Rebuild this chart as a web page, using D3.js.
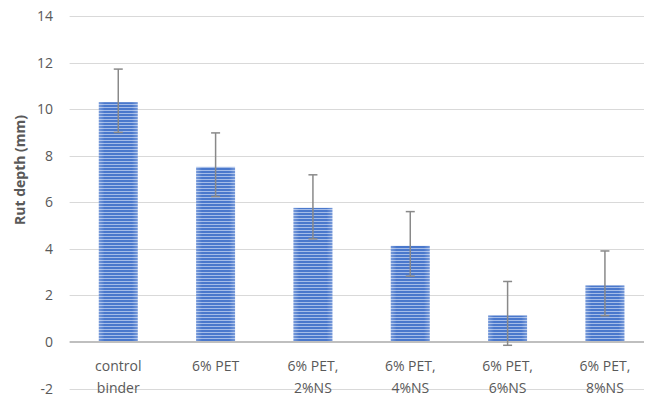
<!DOCTYPE html>
<html>
<head>
<meta charset="utf-8">
<script src="https://cdn.jsdelivr.net/npm/d3@7"></script>
<style>
  html, body { margin: 0; padding: 0; background: #fff; }
  svg { display: block; font-family: "Open Sans", "Liberation Sans", sans-serif; }
</style>
</head>
<body>
<svg id="chart" width="645" height="397"></svg>
<script>
const categories = [["control", "binder"], ["6% PET"], ["6% PET,", "2%NS"], ["6% PET,", "4%NS"], ["6% PET,", "6%NS"], ["6% PET,", "8%NS"]];
const values = [10.3, 7.52, 5.76, 4.13, 1.14, 2.43];
const errPlus = [1.42, 1.46, 1.42, 1.47, 1.46, 1.48];
const errMinus = [1.3, 1.27, 1.33, 1.3, 1.28, 1.3];
const yTicks = [-2, 0, 2, 4, 6, 8, 10, 12, 14];
const yTitle = "Rut depth (mm)";

const svg = d3.select("#chart");
const left = 69.6, right = 653.6, gridRight = 644;

const x = d3.scaleBand().domain(d3.range(categories.length)).range([left, right]).paddingInner(0.6).paddingOuter(0.3);
const y = d3.scaleLinear().domain([-2, 14]).range([388.6, 16]);

// pattern
const defs = svg.append("defs");
const pat = defs.append("pattern").attr("id", "stripes").attr("patternUnits", "userSpaceOnUse")
  .attr("width", 8).attr("height", 3);
pat.append("rect").attr("width", 8).attr("height", 3).attr("fill", "#4a78cc");
pat.append("rect").attr("y", 2).attr("width", 8).attr("height", 1).attr("fill", "#a4bce8");

const grad = defs.append("linearGradient").attr("id", "edge").attr("x1", 0).attr("x2", 1);
grad.append("stop").attr("offset", "0").attr("stop-color", "#ffffff").attr("stop-opacity", 0.25);
grad.append("stop").attr("offset", "0.15").attr("stop-color", "#ffffff").attr("stop-opacity", 0);
grad.append("stop").attr("offset", "0.85").attr("stop-color", "#ffffff").attr("stop-opacity", 0);
grad.append("stop").attr("offset", "1").attr("stop-color", "#ffffff").attr("stop-opacity", 0.25);

// grid
svg.append("g").selectAll("line").data(yTicks.filter(d => d !== 0)).join("line")
  .attr("x1", left).attr("x2", gridRight)
  .attr("y1", d => Math.round(y(d)) + 0.5).attr("y2", d => Math.round(y(d)) + 0.5)
  .attr("stroke", "#d9d9d9").attr("stroke-width", 1);

// y tick labels
svg.append("g").selectAll("text").data(yTicks).join("text")
  .attr("x", 53).attr("y", d => y(d)).attr("dy", "0.36em")
  .attr("text-anchor", "end").attr("font-size", 14).attr("fill", "#595959")
  .text(d => d);

// y title
svg.append("text")
  .attr("transform", `translate(25,${170}) rotate(-90)`)
  .attr("text-anchor", "middle").attr("font-size", 14).attr("font-weight", "bold").attr("fill", "#595959")
  .text(yTitle);

// bars
const bars = svg.append("g");
bars.selectAll("rect.b").data(values).join("rect").attr("class", "b")
  .attr("x", (d, i) => x(i)).attr("width", x.bandwidth())
  .attr("y", d => y(d)).attr("height", d => y(0) - y(d))
  .attr("fill", "url(#stripes)");
bars.selectAll("rect.e").data(values).join("rect").attr("class", "e")
  .attr("x", (d, i) => x(i)).attr("width", x.bandwidth())
  .attr("y", d => y(d)).attr("height", d => y(0) - y(d))
  .attr("fill", "url(#edge)");

// zero line
svg.append("line").attr("x1", left).attr("x2", gridRight)
  .attr("y1", y(0)).attr("y2", y(0)).attr("stroke", "#bfbfbf").attr("stroke-width", 2);

// error bars
const eg = svg.append("g").attr("stroke", "#898989").attr("stroke-width", 1.5);
values.forEach((v, i) => {
  const cx = x(i) + x.bandwidth() / 2;
  const top = y(v + errPlus[i]), bot = y(v - errMinus[i]);
  eg.append("line").attr("x1", cx).attr("x2", cx).attr("y1", top).attr("y2", bot);
  eg.append("line").attr("x1", cx - 4.5).attr("x2", cx + 4.5).attr("y1", top).attr("y2", top);
  eg.append("line").attr("x1", cx - 4.5).attr("x2", cx + 4.5).attr("y1", bot).attr("y2", bot);
});

// x labels
const xl = svg.append("g").selectAll("text").data(categories).join("text")
  .attr("text-anchor", "middle").attr("font-size", 14).attr("fill", "#595959")
  .attr("transform", (d, i) => `translate(${x(i) + x.bandwidth() / 2},0)`);
xl.selectAll("tspan").data(d => d).join("tspan")
  .attr("x", 0).attr("y", (d, j) => 371 + j * 22)
  .text(d => d);
</script>
</body>
</html>
